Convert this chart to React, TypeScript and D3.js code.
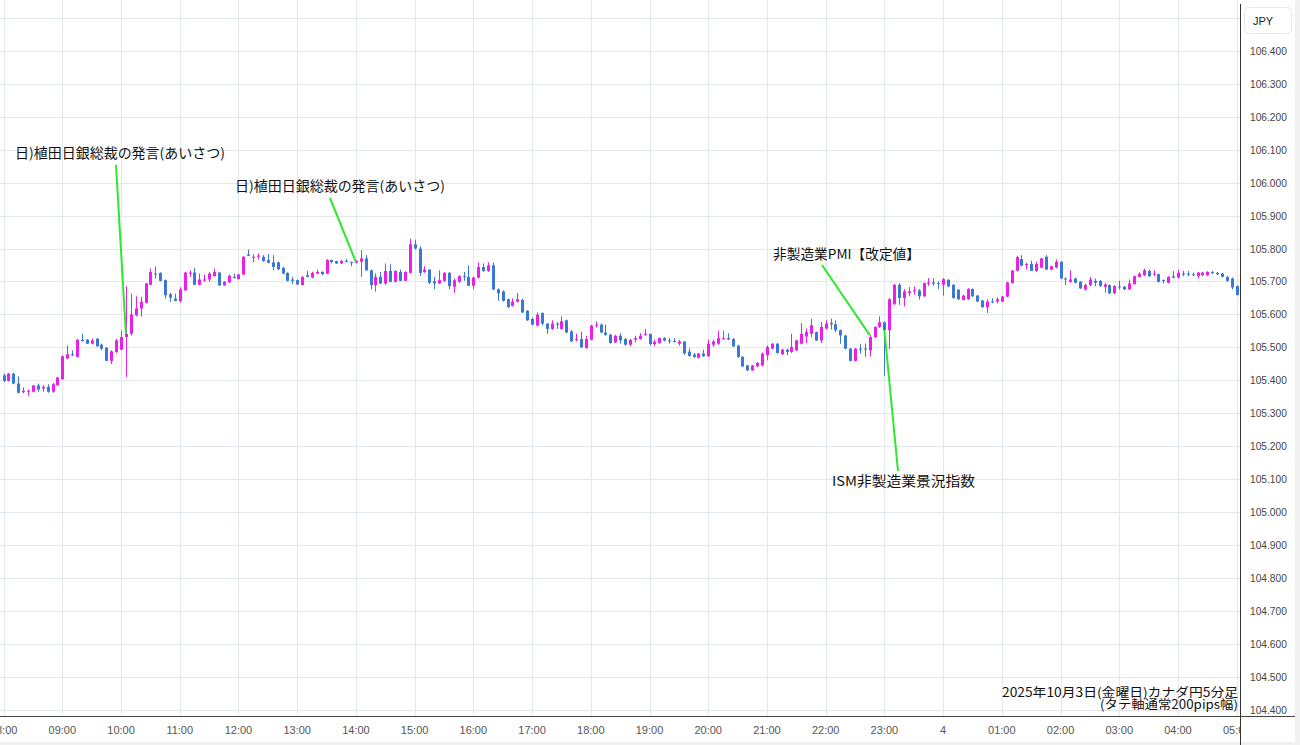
import React from "react";
import * as d3 from "d3";

const W = 1300;
const H = 745;

const startTime = new Date(2025, 9, 3, 8, 0);
const endTime = new Date(2025, 9, 4, 5, 0);
const barMinutes = 5;

const opens = [
  105.415, 105.398, 105.420, 105.390, 105.364, 105.365, 105.365, 105.384, 105.375, 105.380,
  105.365, 105.385, 105.403, 105.466, 105.479, 105.471, 105.523, 105.523, 105.511, 105.526,
  105.508, 105.499, 105.459, 105.486, 105.493, 105.531, 105.541, 105.597, 105.618, 105.635,
  105.690, 105.724, 105.726, 105.704, 105.661, 105.648, 105.640, 105.673, 105.724, 105.727,
  105.690, 105.704, 105.706, 105.716, 105.727, 105.688, 105.697, 105.714, 105.707, 105.721,
  105.782, 105.772, 105.775, 105.775, 105.765, 105.758, 105.758, 105.741, 105.726, 105.706,
  105.704, 105.689, 105.719, 105.712, 105.724, 105.729, 105.724, 105.765, 105.762, 105.755,
  105.763, 105.760, 105.757, 105.760, 105.770, 105.734, 105.689, 105.714, 105.694, 105.732,
  105.699, 105.729, 105.702, 105.726, 105.813, 105.800, 105.729, 105.736, 105.701, 105.694,
  105.702, 105.726, 105.684, 105.699, 105.716, 105.714, 105.687, 105.712, 105.744, 105.732,
  105.749, 105.676, 105.670, 105.646, 105.626, 105.639, 105.644, 105.611, 105.586, 105.566,
  105.604, 105.572, 105.556, 105.572, 105.556, 105.582, 105.548, 105.523, 105.525, 105.498,
  105.523, 105.566, 105.569, 105.545, 105.538, 105.515, 105.535, 105.525, 105.508, 105.523,
  105.525, 105.538, 105.541, 105.510, 105.513, 105.528, 105.521, 105.519, 105.511, 105.518,
  105.487, 105.478, 105.468, 105.481, 105.473, 105.508, 105.511, 105.526, 105.528, 105.525,
  105.505, 105.471, 105.445, 105.430, 105.442, 105.445, 105.476, 105.496, 105.511, 105.479,
  105.493, 105.486, 105.491, 105.511, 105.533, 105.541, 105.546, 105.521, 105.557, 105.574,
  105.570, 105.552, 105.536, 105.496, 105.459, 105.496, 105.496, 105.491, 105.531, 105.562,
  105.576, 105.552, 105.632, 105.690, 105.650, 105.665, 105.670, 105.673, 105.655, 105.693,
  105.697, 105.695, 105.690, 105.705, 105.690, 105.675, 105.644, 105.646, 105.677, 105.657,
  105.642, 105.622, 105.639, 105.639, 105.639, 105.654, 105.695, 105.733, 105.768, 105.750,
  105.753, 105.732, 105.742, 105.775, 105.736, 105.742, 105.760, 105.709, 105.699, 105.709,
  105.699, 105.676, 105.689, 105.702, 105.702, 105.684, 105.689, 105.664, 105.685, 105.684,
  105.676, 105.692, 105.714, 105.719, 105.732, 105.721, 105.722, 105.704, 105.696, 105.716,
  105.712, 105.724, 105.724, 105.722, 105.716, 105.719, 105.719, 105.729, 105.726, 105.724,
  105.714, 105.709, 105.686,
];

const highs = [
  105.420, 105.422, 105.422, 105.412, 105.378, 105.372, 105.386, 105.390, 105.385, 105.388,
  105.392, 105.410, 105.475, 105.506, 105.491, 105.525, 105.541, 105.525, 105.526, 105.528,
  105.511, 105.501, 105.491, 105.526, 105.551, 105.686, 105.663, 105.655, 105.653, 105.696,
  105.739, 105.746, 105.728, 105.706, 105.665, 105.663, 105.682, 105.729, 105.734, 105.742,
  105.724, 105.721, 105.729, 105.739, 105.729, 105.701, 105.721, 105.724, 105.723, 105.777,
  105.797, 105.783, 105.785, 105.780, 105.783, 105.780, 105.760, 105.745, 105.728, 105.714,
  105.706, 105.716, 105.732, 105.730, 105.736, 105.731, 105.768, 105.767, 105.763, 105.765,
  105.768, 105.760, 105.765, 105.795, 105.780, 105.736, 105.724, 105.729, 105.755, 105.752,
  105.734, 105.736, 105.731, 105.830, 105.827, 105.807, 105.746, 105.737, 105.714, 105.734,
  105.729, 105.729, 105.709, 105.719, 105.729, 105.749, 105.714, 105.758, 105.755, 105.758,
  105.758, 105.679, 105.673, 105.648, 105.649, 105.665, 105.648, 105.613, 105.590, 105.606,
  105.606, 105.573, 105.582, 105.576, 105.594, 105.584, 105.553, 105.541, 105.548, 105.535,
  105.568, 105.579, 105.572, 105.569, 105.541, 105.538, 105.543, 105.528, 105.525, 105.535,
  105.543, 105.556, 105.541, 105.523, 105.530, 105.531, 105.528, 105.528, 105.523, 105.518,
  105.497, 105.483, 105.483, 105.493, 105.523, 105.523, 105.551, 105.551, 105.543, 105.528,
  105.508, 105.473, 105.447, 105.447, 105.455, 105.484, 105.506, 105.513, 105.513, 105.495,
  105.496, 105.541, 105.523, 105.574, 105.557, 105.587, 105.548, 105.577, 105.582, 105.587,
  105.582, 105.554, 105.538, 105.498, 105.498, 105.511, 105.511, 105.538, 105.564, 105.594,
  105.579, 105.650, 105.692, 105.695, 105.677, 105.683, 105.685, 105.677, 105.697, 105.710,
  105.710, 105.700, 105.710, 105.707, 105.692, 105.677, 105.660, 105.680, 105.679, 105.659,
  105.644, 105.646, 105.649, 105.652, 105.656, 105.699, 105.735, 105.778, 105.780, 105.757,
  105.763, 105.760, 105.772, 105.780, 105.748, 105.767, 105.762, 105.712, 105.734, 105.712,
  105.701, 105.694, 105.714, 105.709, 105.704, 105.696, 105.691, 105.689, 105.702, 105.686,
  105.706, 105.718, 105.728, 105.739, 105.736, 105.734, 105.724, 105.706, 105.716, 105.732,
  105.736, 105.732, 105.732, 105.727, 105.729, 105.729, 105.731, 105.732, 105.729, 105.726,
  105.716, 105.712, 105.688,
];

const lows = [
  105.394, 105.396, 105.388, 105.360, 105.360, 105.353, 105.363, 105.365, 105.365, 105.362,
  105.362, 105.384, 105.402, 105.465, 105.473, 105.469, 105.518, 105.510, 105.509, 105.502,
  105.491, 105.458, 105.449, 105.483, 105.491, 105.410, 105.536, 105.594, 105.594, 105.633,
  105.688, 105.709, 105.700, 105.648, 105.638, 105.640, 105.636, 105.672, 105.714, 105.689,
  105.688, 105.699, 105.699, 105.715, 105.687, 105.687, 105.696, 105.709, 105.706, 105.720,
  105.777, 105.758, 105.767, 105.760, 105.755, 105.734, 105.735, 105.722, 105.700, 105.692,
  105.690, 105.688, 105.713, 105.710, 105.722, 105.720, 105.722, 105.755, 105.753, 105.753,
  105.759, 105.746, 105.755, 105.714, 105.732, 105.676, 105.669, 105.692, 105.689, 105.697,
  105.697, 105.701, 105.701, 105.724, 105.797, 105.717, 105.726, 105.692, 105.676, 105.692,
  105.699, 105.676, 105.666, 105.696, 105.702, 105.686, 105.676, 105.709, 105.729, 105.729,
  105.674, 105.642, 105.639, 105.620, 105.624, 105.636, 105.604, 105.580, 105.567, 105.564,
  105.566, 105.541, 105.553, 105.556, 105.553, 105.543, 105.516, 105.518, 105.498, 105.496,
  105.521, 105.560, 105.543, 105.535, 105.511, 105.513, 105.511, 105.505, 105.503, 105.515,
  105.523, 105.535, 105.505, 105.503, 105.511, 105.518, 105.511, 105.515, 105.505, 105.477,
  105.472, 105.468, 105.466, 105.471, 105.471, 105.501, 105.508, 105.523, 105.522, 105.501,
  105.468, 105.440, 105.428, 105.428, 105.440, 105.442, 105.461, 105.494, 105.481, 105.477,
  105.476, 105.483, 105.489, 105.509, 105.513, 105.531, 105.519, 105.513, 105.554, 105.554,
  105.546, 105.511, 105.494, 105.457, 105.457, 105.481, 105.471, 105.473, 105.529, 105.559,
  105.414, 105.495, 105.628, 105.629, 105.624, 105.655, 105.660, 105.645, 105.653, 105.687,
  105.687, 105.677, 105.657, 105.683, 105.648, 105.644, 105.642, 105.644, 105.653, 105.637,
  105.620, 105.604, 105.634, 105.634, 105.637, 105.652, 105.693, 105.730, 105.746, 105.737,
  105.732, 105.729, 105.740, 105.736, 105.734, 105.740, 105.707, 105.689, 105.696, 105.694,
  105.677, 105.672, 105.686, 105.686, 105.684, 105.666, 105.662, 105.662, 105.676, 105.674,
  105.674, 105.690, 105.712, 105.716, 105.714, 105.716, 105.697, 105.694, 105.694, 105.709,
  105.709, 105.716, 105.716, 105.716, 105.709, 105.717, 105.717, 105.722, 105.719, 105.712,
  105.699, 105.676, 105.657,
];

const closes = [
  105.398, 105.420, 105.390, 105.362, 105.368, 105.368, 105.384, 105.372, 105.380, 105.365,
  105.388, 105.408, 105.473, 105.479, 105.476, 105.523, 105.519, 105.511, 105.521, 105.503,
  105.496, 105.459, 105.488, 105.521, 105.531, 105.541, 105.600, 105.618, 105.638, 105.694,
  105.729, 105.721, 105.702, 105.658, 105.651, 105.641, 105.676, 105.727, 105.727, 105.690,
  105.706, 105.706, 105.724, 105.729, 105.688, 105.699, 105.717, 105.712, 105.721, 105.775,
  105.778, 105.775, 105.779, 105.762, 105.757, 105.744, 105.737, 105.724, 105.702, 105.702,
  105.691, 105.714, 105.714, 105.726, 105.729, 105.722, 105.765, 105.759, 105.755, 105.763,
  105.761, 105.758, 105.763, 105.770, 105.734, 105.689, 105.714, 105.694, 105.732, 105.699,
  105.732, 105.702, 105.729, 105.813, 105.800, 105.726, 105.736, 105.696, 105.694, 105.704,
  105.726, 105.686, 105.704, 105.716, 105.714, 105.687, 105.712, 105.744, 105.732, 105.749,
  105.676, 105.664, 105.641, 105.622, 105.639, 105.646, 105.606, 105.582, 105.569, 105.599,
  105.572, 105.556, 105.572, 105.569, 105.579, 105.545, 105.518, 105.525, 105.500, 105.525,
  105.566, 105.569, 105.545, 105.538, 105.513, 105.535, 105.521, 105.508, 105.523, 105.528,
  105.535, 105.541, 105.510, 105.517, 105.528, 105.521, 105.518, 105.517, 105.518, 105.482,
  105.474, 105.471, 105.481, 105.473, 105.511, 105.518, 105.528, 105.528, 105.524, 105.503,
  105.471, 105.442, 105.430, 105.445, 105.453, 105.481, 105.501, 105.511, 105.483, 105.493,
  105.486, 105.501, 105.521, 105.541, 105.546, 105.567, 105.521, 105.562, 105.572, 105.570,
  105.552, 105.536, 105.496, 105.459, 105.496, 105.493, 105.493, 105.531, 105.562, 105.576,
  105.552, 105.646, 105.690, 105.650, 105.670, 105.670, 105.673, 105.655, 105.695, 105.697,
  105.693, 105.692, 105.707, 105.685, 105.650, 105.646, 105.657, 105.677, 105.655, 105.639,
  105.622, 105.639, 105.636, 105.646, 105.654, 105.697, 105.733, 105.774, 105.748, 105.753,
  105.732, 105.753, 105.770, 105.736, 105.746, 105.760, 105.709, 105.706, 105.706, 105.696,
  105.679, 105.689, 105.706, 105.696, 105.686, 105.691, 105.664, 105.686, 105.682, 105.676,
  105.694, 105.716, 105.724, 105.734, 105.716, 105.724, 105.699, 105.702, 105.714, 105.712,
  105.726, 105.721, 105.721, 105.719, 105.727, 105.727, 105.729, 105.726, 105.722, 105.714,
  105.702, 105.682, 105.659,
];

const priceTicks = [
  104.4, 104.5, 104.6, 104.7, 104.8, 104.9, 105.0, 105.1, 105.2, 105.3, 105.4,
  105.5, 105.6, 105.7, 105.8, 105.9, 106.0, 106.1, 106.2, 106.3, 106.4,
];
const gridPrices = [...priceTicks, 106.5];

const annotationTexts = [
  "日)植田日銀総裁の発言(あいさつ)",
  "日)植田日銀総裁の発言(あいさつ)",
  "非製造業PMI【改定値】",
  "ISM非製造業景況指数",
];
const annotationBars = [25, 72, 177, 180];
const annotationPrices = [105.54, 105.759, 105.537, 105.552];

const titleLines = ["2025年10月3日(金曜日)カナダ円5分足", "(タテ軸通常200pips幅)"];
const currencyLabel = "JPY";

const UP = "#ea1fea";
const DOWN = "#3b78d6";
const GRID = "#e3e8ee";
const GREEN = "#2ee82e";

export default function App() {
  const plotRight = 1240.5;
  const axisY = 716.5;

  const x = d3.scaleTime().domain([startTime, endTime]).range([3.6, 1236.7]);
  const y = d3.scaleLinear().domain([104.4, 106.4]).range([709.5, 51]);

  const bars = opens.map((o, i) => ({
    t: new Date(startTime.getTime() + i * barMinutes * 60000),
    o,
    h: highs[i],
    l: lows[i],
    c: closes[i],
  }));

  const hours = d3.timeHour.range(startTime, new Date(endTime.getTime() + 1));
  const fmtHour = (d: Date) => (d.getHours() === 0 ? String(d.getDate()) : d3.timeFormat("%H:%M")(d));
  const fmtPrice = d3.format(".3f");

  const labelPos = [
    { lx: 15, ly: 158, sx: 116, sy: 165, w: 210 },
    { lx: 235, ly: 191, sx: 330, sy: 198, w: 210 },
    { lx: 773, ly: 259, sx: 822, sy: 265, w: 147 },
    { lx: 832, ly: 486, sx: 898, sy: 471, w: 143 },
  ];

  const sans = "'Liberation Sans', Arial, sans-serif";
  const cjk = "'Noto Sans CJK JP', 'Noto Sans', sans-serif";

  return (
    <svg
      width={W}
      height={H}
      style={{ position: "absolute", left: 0, top: 0, display: "block" }}
    >
      <defs>
        <clipPath id="plotClip">
          <rect x={0} y={0} width={plotRight} height={axisY} />
        </clipPath>
        <clipPath id="axisClip">
          <rect x={0} y={axisY} width={plotRight} height={H - axisY} />
        </clipPath>
      </defs>
      <rect x={0} y={0} width={W} height={H} fill="#f0f0f0" />
      <rect x={0} y={0} width={1295} height={742} fill="#ffffff" />

      <g clipPath="url(#plotClip)">
        {gridPrices.map((p) => (
          <line key={"h" + p} x1={0} x2={plotRight} y1={Math.round(y(p)) + 0.5} y2={Math.round(y(p)) + 0.5} stroke={GRID} strokeWidth={1} />
        ))}
        {hours.map((d) => (
          <line key={"v" + d.getTime()} x1={Math.round(x(d)) + 0.5} x2={Math.round(x(d)) + 0.5} y1={0} y2={axisY} stroke={GRID} strokeWidth={1} />
        ))}

        {bars.map((b, i) => {
          const cx = Math.round(x(b.t));
          const up = b.c >= b.o;
          const col = up ? UP : DOWN;
          const top = y(Math.max(b.o, b.c));
          const bot = y(Math.min(b.o, b.c));
          const bh = Math.max(1, bot - top);
          return (
            <g key={i}>
              <line x1={cx + 0.5} x2={cx + 0.5} y1={y(b.h)} y2={y(b.l)} stroke={col} strokeWidth={1} />
              <rect x={cx - 1} y={top} width={3} height={bh} fill={col} />
            </g>
          );
        })}

        {annotationTexts.map((t, i) => {
          const tb = bars[annotationBars[i]];
          const tx = x(tb.t);
          const ty = y(annotationPrices[i]);
          const lp = labelPos[i];
          return (
            <g key={"a" + i}>
              <line x1={lp.sx} y1={lp.sy} x2={tx} y2={ty} stroke={GREEN} strokeWidth={2} />
              <text x={lp.lx} y={lp.ly} fontFamily={cjk} fontSize={13.5} fill="#111" textLength={lp.w} lengthAdjust="spacingAndGlyphs">
                {t}
              </text>
            </g>
          );
        })}

        <text x={1238} y={697} textAnchor="end" fontFamily={cjk} fontSize={12.5} fill="#111" textLength={236} lengthAdjust="spacingAndGlyphs">
          {titleLines[0]}
        </text>
        <text x={1238} y={709} textAnchor="end" fontFamily={cjk} fontSize={12.5} fill="#111" textLength={138} lengthAdjust="spacingAndGlyphs">
          {titleLines[1]}
        </text>
      </g>

      {/* time axis */}
      <line x1={0} x2={1295} y1={axisY} y2={axisY} stroke="#444" strokeWidth={1} />
      <g clipPath="url(#axisClip)">
        {hours.map((d) => (
          <text key={"xl" + d.getTime()} x={x(d)} y={733.5} textAnchor="middle" fontFamily={sans} fontSize={11} fill="#555">
            {fmtHour(d)}
          </text>
        ))}
      </g>

      {/* price axis */}
      <line x1={plotRight} x2={plotRight} y1={4} y2={H} stroke="#333" strokeWidth={1} />
      {priceTicks.map((p) => (
        <text key={"yl" + p} x={1250} y={y(p) + 4} fontFamily={sans} fontSize={10.2} fill="#444">
          {fmtPrice(p)}
        </text>
      ))}
      <rect x={1244.5} y={7.5} width={47} height={26} rx={4} fill="#fff" stroke="#e8e8e8" />
      <text x={1253} y={25} fontFamily={sans} fontSize={11} fill="#222">
        {currencyLabel}
      </text>
    </svg>
  );
}
